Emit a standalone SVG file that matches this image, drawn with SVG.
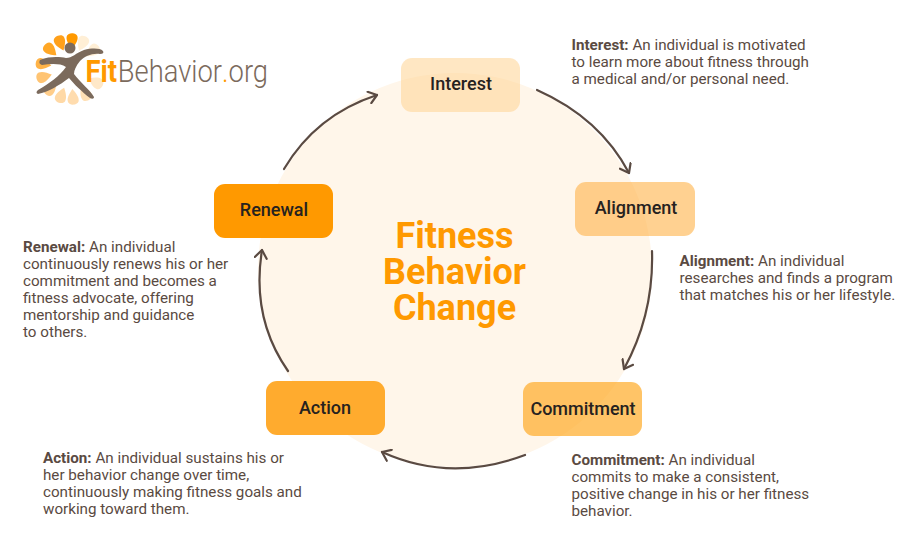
<svg xmlns="http://www.w3.org/2000/svg" width="920" height="550" viewBox="0 0 920 550">
<style>
text{font-family:Roboto,"Liberation Sans",sans-serif}
.n{font-size:18px;font-weight:500;fill:#26221f;text-anchor:middle}
.d{font-size:15.2px;fill:#5a4a42}
.d tspan.b{font-weight:700}
.t{font-size:36px;font-weight:700;fill:#ff9900;text-anchor:middle}
.c{fill:none;stroke:#5a4a42;stroke-width:2.2;stroke-linecap:round;stroke-linejoin:round}
</style>
<defs>
<marker id="a" viewBox="0 0 14 14" refX="11" refY="7" markerWidth="14" markerHeight="14" markerUnits="userSpaceOnUse" orient="auto"><path d="M3 1L11 7L3 13" class="c"/></marker>
<path id="p" d="M0 -20C-3 -24 -6 -28 -5.5 -32C-5 -37 5 -37 5.5 -32C6 -28 3 -24 0 -20Z"/>
</defs>
<rect width="920" height="550" fill="#fff"/>
<circle id="bg" cx="455" cy="270" r="197" fill="#fff6ea"/>
<g id="logo">
<g transform="translate(71,69)">
<use href="#p" transform="rotate(2)" fill="#ff9900"/>
<use href="#p" transform="rotate(-22)" fill="#ffa01a"/>
<use href="#p" transform="rotate(24)" fill="#ffefd6"/>
<use href="#p" transform="rotate(50)" fill="#ffefd6"/>
<use href="#p" transform="rotate(118)" fill="#ffe8c8"/>
<use href="#p" transform="rotate(150)" fill="#ffe0b5"/>
<use href="#p" transform="rotate(176)" fill="#ffdcae"/>
<use href="#p" transform="rotate(200)" fill="#ffd9a6"/>
<use href="#p" transform="rotate(226)" fill="#ffcd8a"/>
<use href="#p" transform="rotate(254)" fill="#ffc473"/>
<use href="#p" transform="rotate(280)" fill="#ffb347"/>
<use href="#p" transform="rotate(-47)" fill="#ffa726"/>
</g>
<circle cx="70" cy="48" r="5.5" fill="#7b6a5c"/>
<path d="M40 60C50 56 60 57 66 58C72 58 76 53 84 50C92 48 100 48 103 51C104 53 103 54 100 54C92 53 85 56 80 61C76 66 74 70 74 74C80 82 90 90 94 97C94 99 92 99 90 98C82 92 74 84 69 78C60 85 48 92 38 94C36 93 36 92 38 90C48 84 60 76 66 67C60 63 50 64 42 65C39 64 39 62 40 60Z" fill="#7b6a5c"/>
<text transform="translate(85.5,82) scale(.882,1)" font-size="31" fill="#7b6a5c" font-weight="300"><tspan font-weight="700" fill="#ff9900">Fit</tspan><tspan dx="1">Behavior</tspan><tspan fill="#ff9900">.</tspan>org</text>
</g>
<g id="connectors">
<path class="c" marker-end="url(#a)" d="M537 90Q600 118 629 173"/>
<path class="c" marker-end="url(#a)" d="M652 251Q654 314 624 369"/>
<path class="c" marker-end="url(#a)" d="M525 455Q450 483 382 452"/>
<path class="c" marker-end="url(#a)" d="M288 371Q251 318 262 250"/>
<path class="c" marker-end="url(#a)" d="M284 169Q316 115 377 95"/>
</g>
<g id="interest"><rect x="401" y="58" width="119" height="54" rx="11" fill="#ffd391" fill-opacity=".55"/><text class="n" x="461" y="90">Interest</text></g>
<g id="alignment"><rect x="575" y="182" width="120" height="54" rx="11" fill="#ffb347" fill-opacity=".6"/><text class="n" x="636" y="214">Alignment</text></g>
<g id="commitment"><rect x="523" y="382" width="119" height="54" rx="11" fill="#ffab26" fill-opacity=".7"/><text class="n" x="583" y="415">Commitment</text></g>
<g id="action"><rect x="266" y="381" width="119" height="54" rx="11" fill="#ffab2e"/><text class="n" x="325" y="414">Action</text></g>
<g id="renewal"><rect x="214" y="184" width="119" height="54" rx="11" fill="#ff9900"/><text class="n" x="274" y="216">Renewal</text></g>
<g id="title"><text class="t" x="454.5" y="248">Fitness<tspan x="454.5" y="284">Behavior</tspan><tspan x="454.5" y="320">Change</tspan></text></g>
<g id="desc">
<text class="d" x="571.5" y="50"><tspan class="b">Interest:</tspan> An individual is motivated<tspan x="571.5" y="67">to learn more about fitness through</tspan><tspan x="571.5" y="84">a medical and/or personal need.</tspan></text>
<text class="d" x="679.5" y="266"><tspan class="b">Alignment:</tspan> An individual<tspan x="679.5" y="283">researches and finds a program</tspan><tspan x="679.5" y="300">that matches his or her lifestyle.</tspan></text>
<text class="d" x="571.5" y="465"><tspan class="b">Commitment:</tspan> An individual<tspan x="571.5" y="482">commits to make a consistent,</tspan><tspan x="571.5" y="499">positive change in his or her fitness</tspan><tspan x="571.5" y="516">behavior.</tspan></text>
<text class="d" x="43" y="463"><tspan class="b">Action:</tspan> An individual sustains his or<tspan x="43" y="480">her behavior change over time,</tspan><tspan x="43" y="497">continuously making fitness goals and</tspan><tspan x="43" y="514">working toward them.</tspan></text>
<text class="d" x="23" y="252"><tspan class="b">Renewal:</tspan> An individual<tspan x="23" y="269">continuously renews his or her</tspan><tspan x="23" y="286">commitment and becomes a</tspan><tspan x="23" y="303">fitness advocate, offering</tspan><tspan x="23" y="320">mentorship and guidance</tspan><tspan x="23" y="337">to others.</tspan></text>
</g>
</svg>
